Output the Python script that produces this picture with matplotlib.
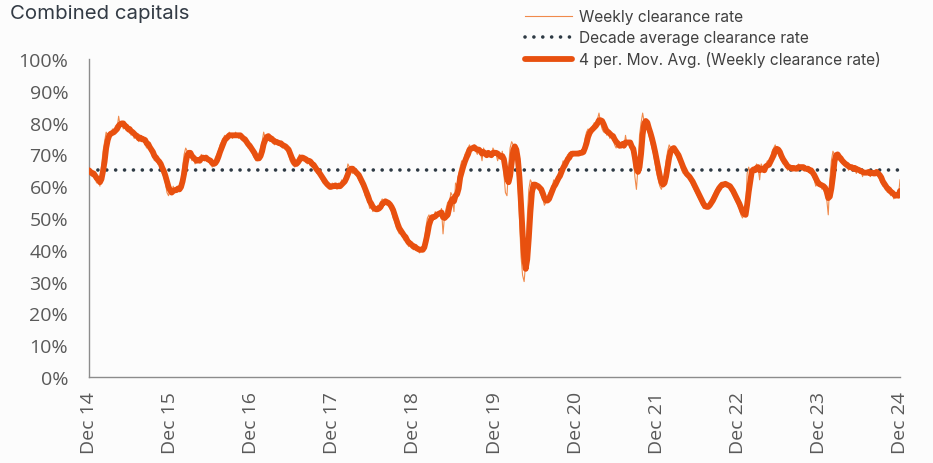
import pandas as pd
import numpy as np
import matplotlib.pyplot as plt

# Weekly clearance rate (%), one row per year from Dec 2014
yr1 = [65, 64, 63, 64, 62, 61, 62, 60, 66, 71, 74, 77, 76, 77, 76, 78, 77, 79, 78, 82,
       79, 80, 78, 79, 78, 77, 78, 76, 77, 75, 76, 75, 74, 76, 74, 75, 73, 72, 73, 71,
       70, 69, 68, 69, 67, 67, 65, 64, 63, 61, 58, 57]
yr2 = [59, 58, 60, 58, 59, 60, 59, 61, 66, 70, 72, 71, 69, 70, 68, 69, 67, 68, 69, 68,
       70, 69, 68, 69, 68, 68, 67, 66, 67, 69, 70, 71, 73, 74, 75, 76, 75, 76, 77, 76,
       75, 76, 77, 76, 75, 76, 75, 74, 74, 73, 72, 72]
yr3 = [71, 70, 69, 68, 68, 70, 72, 74, 77, 75, 76, 75, 74, 75, 74, 73, 74, 74, 73, 73,
       72, 73, 72, 71, 70, 68, 67, 67, 66, 68, 69, 70, 69, 68, 68, 69, 67, 68, 67, 66,
       66, 65, 64, 64, 63, 62, 61, 61, 60, 60, 59, 60]
yr4 = [61, 60, 60, 59, 61, 60, 62, 61, 63, 64, 67, 66, 65, 64, 65, 64, 63, 62, 61, 60,
       59, 57, 56, 55, 53, 54, 52, 53, 52, 54, 53, 55, 56, 55, 55, 54, 55, 53, 52, 50,
       49, 47, 46, 45, 46, 44, 43, 43, 42, 41, 42, 41]
yr5 = [40, 41, 40, 40, 39, 41, 40, 43, 47, 50, 51, 49, 51, 50, 52, 51, 52, 51, 53, 45,
       51, 53, 55, 54, 58, 57, 52, 61, 60, 64, 66, 68, 67, 70, 71, 72, 73, 71, 72, 73,
       71, 70, 72, 71, 68, 72, 70, 69, 71, 70, 69, 72]
yr6 = [71, 70, 68, 70, 69, 71, 64, 58, 57, 66, 72, 74, 73, 71, 68, 62, 50, 38, 32, 30,
       36, 50, 59, 62, 61, 60, 59, 61, 60, 58, 57, 56, 54, 55, 57, 58, 59, 60, 62, 61,
       63, 64, 65, 66, 68, 67, 69, 70, 70, 71, 70, 70]
yr7 = [70, 71, 70, 71, 70, 72, 75, 77, 78, 77, 78, 79, 80, 79, 81, 83, 80, 78, 77, 78,
       76, 77, 75, 76, 75, 73, 72, 74, 72, 73, 74, 72, 76, 73, 74, 72, 71, 70, 63, 59,
       66, 76, 80, 83, 80, 79, 78, 76, 74, 72, 70, 67]
yr8 = [64, 62, 60, 59, 61, 64, 68, 71, 73, 72, 71, 72, 70, 69, 68, 67, 65, 64, 64, 63,
       63, 62, 61, 60, 59, 58, 57, 56, 55, 54, 53, 53, 54, 54, 55, 56, 57, 58, 59, 60,
       60, 61, 61, 60, 61, 60, 60, 59, 58, 57, 56, 55]
yr9 = [54, 53, 51, 50, 51, 52, 64, 66, 64, 65, 66, 65, 67, 66, 62, 67, 66, 65, 67, 68,
       67, 69, 71, 72, 73, 71, 70, 69, 68, 67, 67, 66, 65, 66, 66, 65, 66, 65, 66, 67,
       66, 65, 66, 65, 66, 65, 64, 65, 63, 62, 60, 61]
yr10 = [60, 61, 59, 60, 58, 56, 51, 62, 68, 71, 70, 70, 69, 68, 68, 67, 67, 66, 67, 65,
        66, 66, 65, 66, 64, 66, 64, 65, 63, 65, 64, 65, 64, 63, 65, 64, 64, 65, 63, 62,
        61, 60, 60, 59, 58, 59, 57, 58, 56, 57, 58, 57, 62]

decade_avg = 65
tick_labels = ['Dec 14', 'Dec 15', 'Dec 16', 'Dec 17', 'Dec 18', 'Dec 19',
               'Dec 20', 'Dec 21', 'Dec 22', 'Dec 23', 'Dec 24']

weekly = yr1 + yr2 + yr3 + yr4 + yr5 + yr6 + yr7 + yr8 + yr9 + yr10
df = pd.DataFrame({'rate': weekly})
df['date'] = pd.date_range('2014-12-06', periods=len(df), freq='7D')
df['ma4'] = df['rate'].rolling(4, min_periods=1).mean()

thin_col = '#F08A4B'
thick_col = '#E8500F'
dot_col = '#2E3A44'
txt_col = '#595959'

fig = plt.figure(figsize=(9.33, 4.64), dpi=100, facecolor='#FCFCFC')
ax = fig.add_axes([89/933, 1 - 378/464, 811/933, 318/464])
ax.set_facecolor('#FCFCFC')

ax.plot(df['date'], df['rate'], color=thin_col, lw=0.8, label='Weekly clearance rate', zorder=2)
ax.plot(df['date'], [decade_avg] * len(df), color=dot_col, lw=2.6,
        linestyle=(0, (0.01, 2.45)), dash_capstyle='round',
        label='Decade average clearance rate', zorder=3)
ax.plot(df['date'], df['ma4'], color=thick_col, lw=4.2, solid_capstyle='round',
        label='4 per. Mov. Avg. (Weekly clearance rate)', zorder=4)

ax.set_ylim(0, 100)
ax.set_yticks(np.arange(0, 101, 10))
ax.set_yticklabels([f'{v}%' for v in range(0, 101, 10)])
ax.set_xlim(df['date'].iloc[0], df['date'].iloc[-1])
ax.set_xticks(df['date'].iloc[::52])
ax.set_xticklabels(tick_labels, rotation=90)

for lab in ax.get_yticklabels() + ax.get_xticklabels():
    lab.set_fontfamily('Open Sans')
    lab.set_fontsize(14)
    lab.set_color(txt_col)
ax.tick_params(axis='y', length=0, pad=15)
ax.tick_params(axis='x', length=0, pad=10)

for s in ['top', 'right']:
    ax.spines[s].set_visible(False)
for s in ['left', 'bottom']:
    ax.spines[s].set_color('#8C8C8C')
    ax.spines[s].set_linewidth(1)

fig.text(10/933, 1 - 14/464, 'Combined capitals', fontsize=14.7, family='Inter',
         color='#333B45', va='center', ha='left')

ax.legend(loc='upper left', bbox_to_anchor=(525/933, 1 - 10/464),
          bbox_transform=fig.transFigure, frameon=False,
          prop={'family': 'Inter', 'size': 11.2}, labelcolor='#404040',
          handlelength=3.0, handletextpad=0.45, labelspacing=0.4,
          borderaxespad=0, borderpad=0)

fig.savefig('out.png', dpi=100, facecolor=fig.get_facecolor())
